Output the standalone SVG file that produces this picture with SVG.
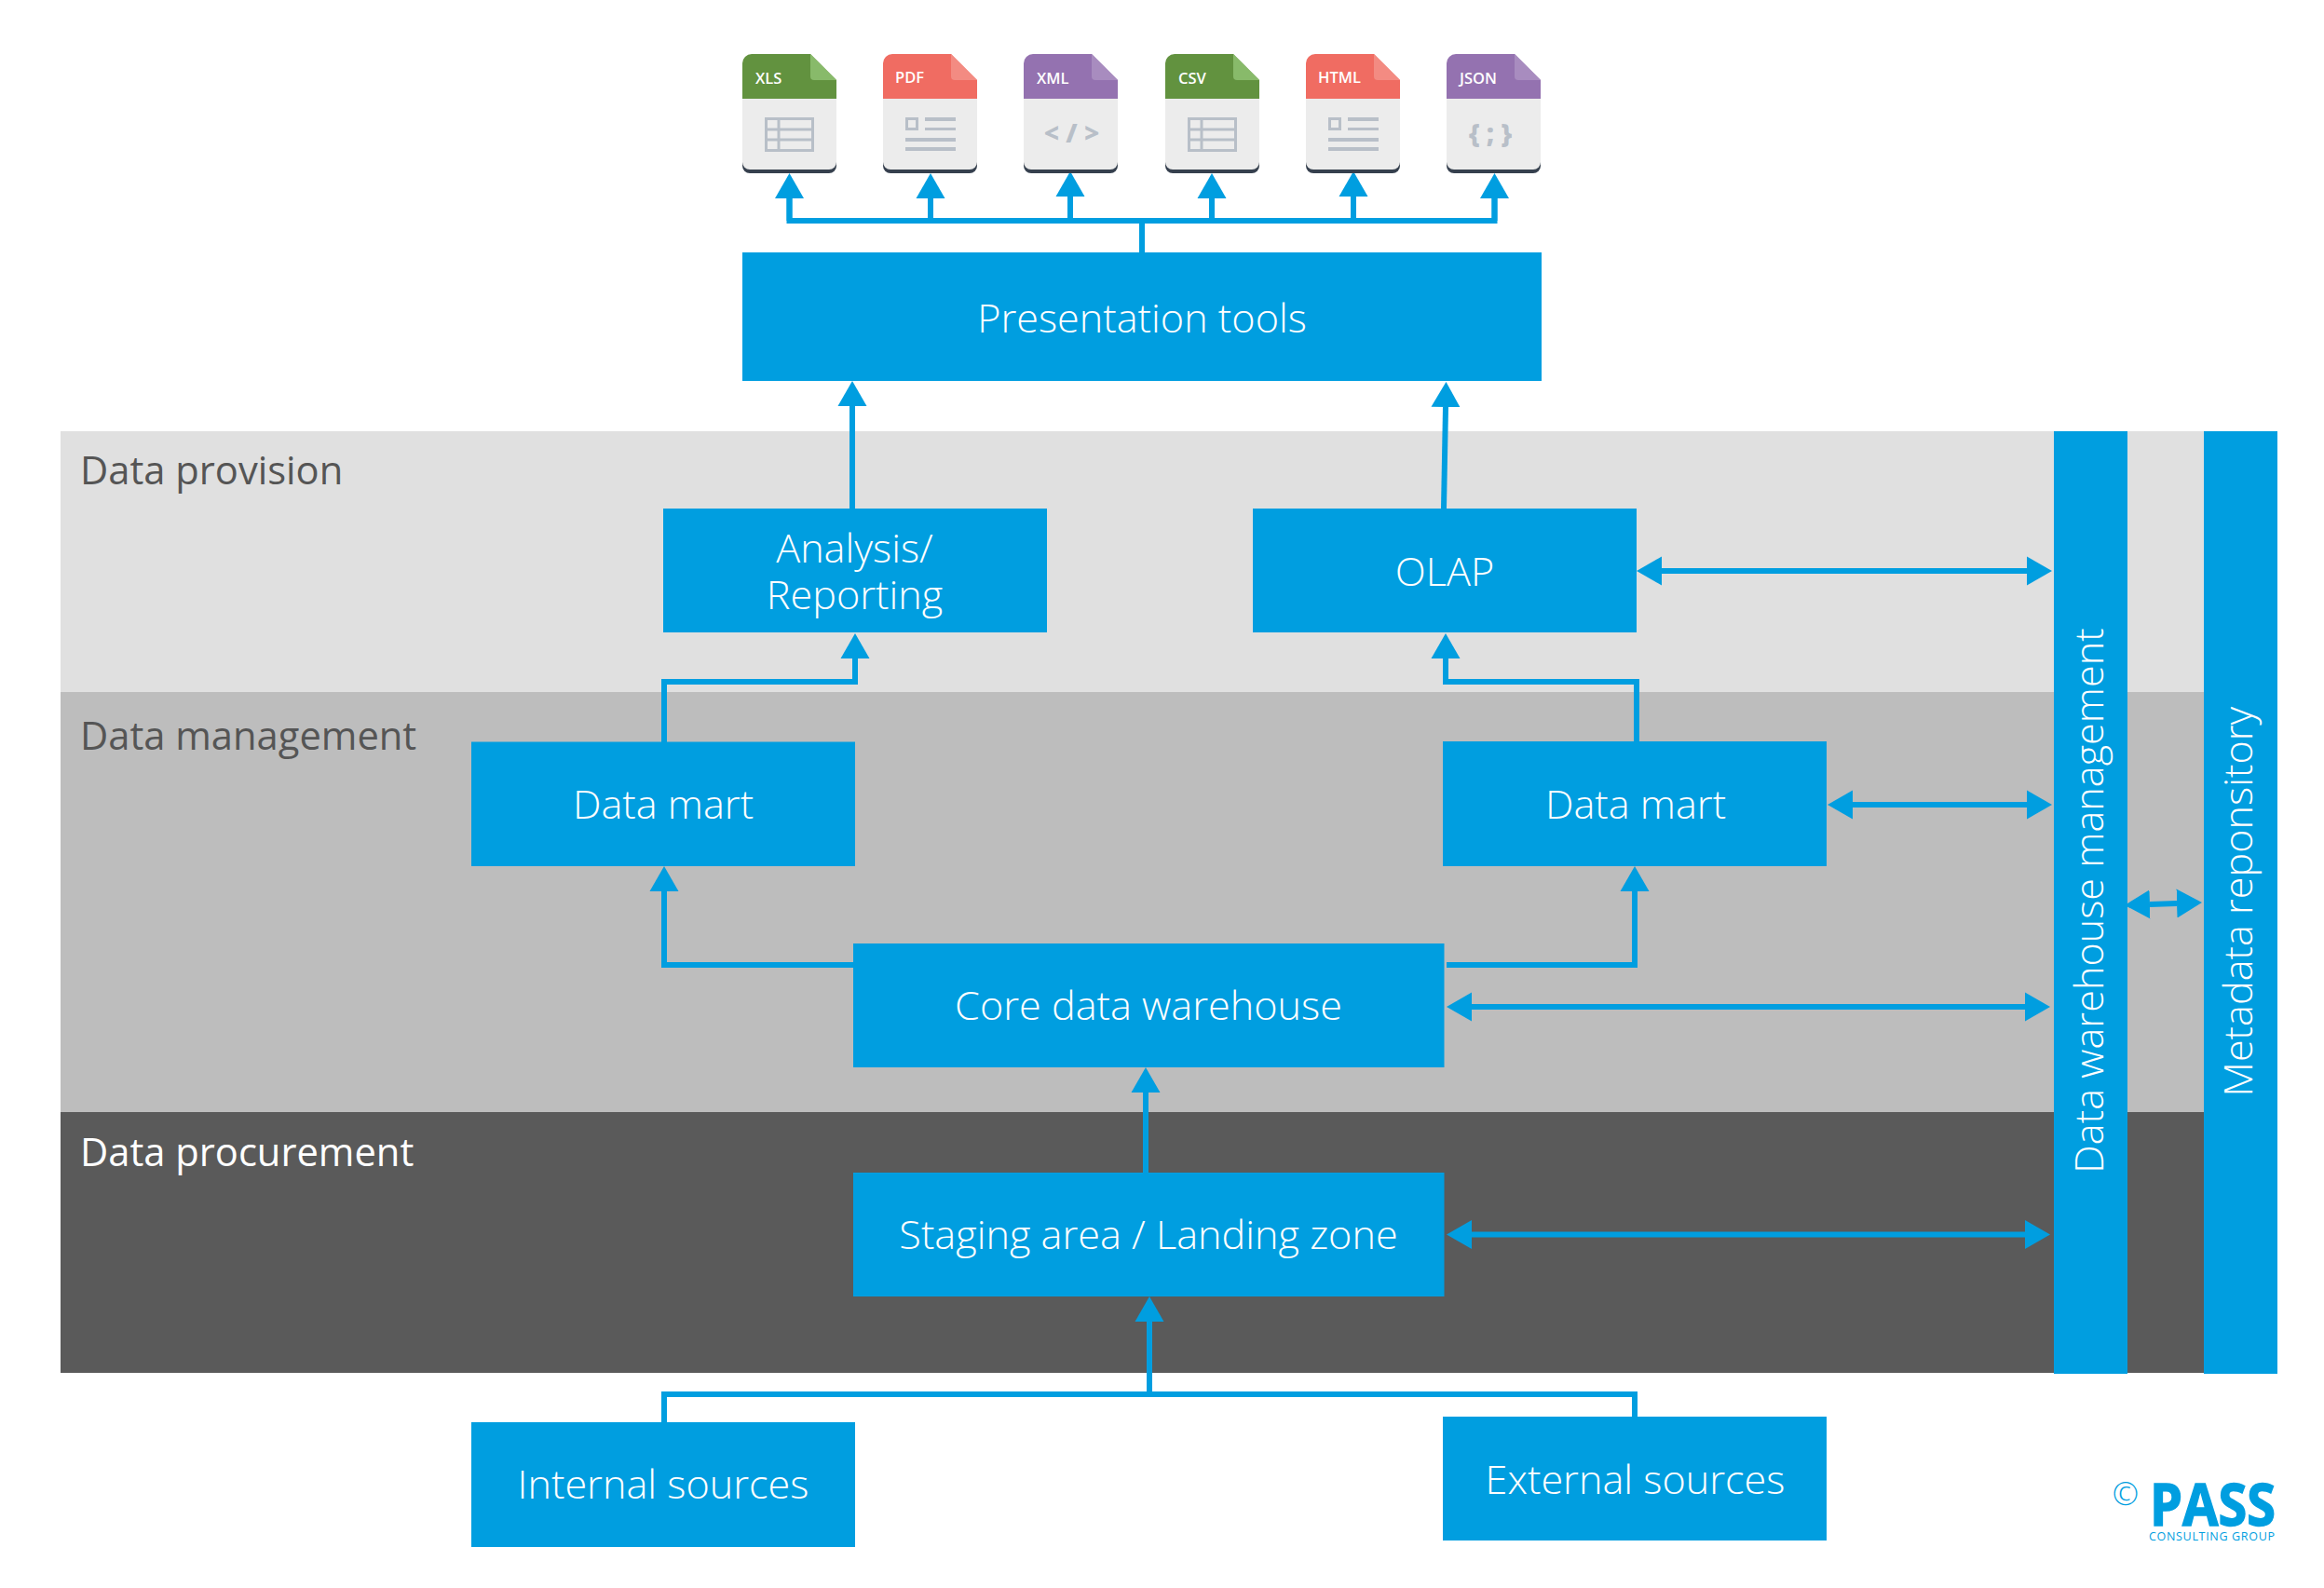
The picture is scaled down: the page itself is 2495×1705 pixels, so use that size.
<svg xmlns="http://www.w3.org/2000/svg" width="2495" height="1705" viewBox="0 0 2495 1705">
<style>
text{font-family:"Open Sans","Noto Sans","Liberation Sans",sans-serif}
.box{fill:#009EE0}
.lbl{fill:#fff;font-size:43.200px;text-anchor:middle;font-weight:300}
.band{font-size:41.700px;fill:#555}
.cn{fill:none;stroke:#009EE0;stroke-width:6}
.a{marker-end:url(#ah)}
.b{marker-start:url(#ah);marker-end:url(#ah)}
.hd{fill:#fff;font-size:16.500px;font-weight:600}
.gl{fill:none;stroke:#B8BFC8;stroke-width:3}
.gf{fill:#B8BFC8}
.sym{fill:#B8BFC8;font-size:28px;font-weight:800;text-anchor:middle}
.logo{fill:#009EE0}
</style>
<defs>
<marker id="ah" markerUnits="userSpaceOnUse" markerWidth="28" markerHeight="32" viewBox="0 0 28 32" refX="0" refY="16" orient="auto-start-reverse"><path d="M0 .5L27 16L0 31.500Z" fill="#009EE0"/></marker>
<g id="base"><path d="M0 48H101V120a8 8 0 0 1-8 8H8a8 8 0 0 1-8-8Z" fill="#36404E"/><path d="M0 48H101V116a8 8 0 0 1-8 8H8a8 8 0 0 1-8-8Z" fill="#ECECEC"/></g>
<path id="head" d="M0 48V10a10 10 0 0 1 10-10H73L101 28V48Z"/>
<path id="fold" d="M73 0L101 28H77a4 4 0 0 1-4-4Z"/>
<g id="tbl" class="gl"><rect x="25.500" y="69.500" width="50" height="34"/><path d="M25 81H76M25 92H76M39 69V104"/></g>
<g id="doc"><rect x="25.500" y="69.500" width="11" height="11" class="gl"/><path class="gf" d="M45 68H78V72H45ZM45 79H78V82H45ZM24 90H78V94H24ZM24 100H78V104H24Z"/></g>
</defs>
<rect width="2495" height="1705" fill="#fff"/>
<g id="bands">
<rect x="65" y="463" width="2301" height="280" fill="#E0E0E0"/>
<rect x="65" y="743" width="2301" height="451" fill="#BDBDBD"/>
<rect x="65" y="1194" width="2301" height="280" fill="#5A5A5A"/>
<text class="band" x="86" y="520">Data provision</text>
<text class="band" x="86" y="805">Data management</text>
<text class="band" x="86" y="1252" style="fill:#fff">Data procurement</text>
</g>
<g id="connectors">
<path class="cn" d="M1226 271V237"/>
<path class="cn" d="M847.500 212V237H1604.500V212"/>
<path class="cn a" d="M847.500 237V213"/><path class="cn a" d="M1604.500 237V213"/>
<path class="cn a" d="M999 237V213"/><path class="cn a" d="M1149 237V211"/><path class="cn a" d="M1301 237V213"/><path class="cn a" d="M1453 237V211"/>
<path class="cn a" d="M915 546V436"/>
<path class="cn a" d="M1550 546L1552 437"/>
<path class="cn a" d="M713 797V732H918V707"/>
<path class="cn a" d="M1757 797V732H1552V707"/>
<path class="cn b" d="M1784 613H2176"/>
<path class="cn b" d="M1989 864H2176"/>
<path class="cn a" d="M916 1036H713V957"/>
<path class="cn a" d="M1553 1036H1755V957"/>
<path class="cn b" d="M1580 1081H2174"/>
<path class="cn b" d="M1580 1325.500H2174"/>
<path class="cn b" d="M2308 971L2337 970"/>
<path class="cn a" d="M1230 1259V1173"/>
<path class="cn" d="M713 1527V1497H1755V1521"/>
<path class="cn a" d="M1234 1497V1419"/>
</g>
<g id="file-xls" transform="translate(797 58)"><use href="#base"/><use href="#head" fill="#62923F"/><use href="#fold" fill="#88BA6A"/><use href="#tbl"/><text class="hd" x="14" y="32">XLS</text></g>
<g id="file-pdf" transform="translate(948 58)"><use href="#base"/><use href="#head" fill="#F06C62"/><use href="#fold" fill="#F38B82"/><use href="#doc"/><text class="hd" x="13" y="31">PDF</text></g>
<g id="file-xml" transform="translate(1099 58)"><use href="#base"/><use href="#head" fill="#9472B0"/><use href="#fold" fill="#A88CBF"/><text class="hd" x="14" y="32">XML</text><text class="sym" x="51.500" y="95">&lt; / &gt;</text></g>
<g id="file-csv" transform="translate(1251 58)"><use href="#base"/><use href="#head" fill="#62923F"/><use href="#fold" fill="#88BA6A"/><use href="#tbl"/><text class="hd" x="14" y="32">CSV</text></g>
<g id="file-html" transform="translate(1402 58)"><use href="#base"/><use href="#head" fill="#F06C62"/><use href="#fold" fill="#F38B82"/><use href="#doc"/><text class="hd" x="13" y="31">HTML</text></g>
<g id="file-json" transform="translate(1553 58)"><use href="#base"/><use href="#head" fill="#9472B0"/><use href="#fold" fill="#A88CBF"/><text class="hd" x="14" y="32">JSON</text><text class="sym" x="47" y="95">{ ; }</text></g>
<g id="presentation"><rect class="box" x="797" y="271" width="858" height="138"/><text class="lbl" x="1226" y="357">Presentation tools</text></g>
<g id="analysis"><rect class="box" x="712" y="546" width="412" height="133"/><text class="lbl" x="917.500" y="604">Analysis/</text><text class="lbl" x="917.500" y="654">Reporting</text></g>
<g id="olap"><rect class="box" x="1345" y="546" width="412" height="133"/><text class="lbl" x="1551" y="629">OLAP</text></g>
<g id="mart-left"><rect class="box" x="506" y="796.500" width="412" height="133.500"/><text class="lbl" x="712" y="879">Data mart</text></g>
<g id="mart-right"><rect class="box" x="1549" y="796" width="412" height="134"/><text class="lbl" x="1756" y="879">Data mart</text></g>
<g id="core"><rect class="box" x="916" y="1013" width="634.500" height="133"/><text class="lbl" x="1233" y="1095">Core data warehouse</text></g>
<g id="staging"><rect class="box" x="916" y="1259" width="634.500" height="133"/><text class="lbl" x="1233" y="1341">Staging area / Landing zone</text></g>
<g id="internal"><rect class="box" x="506" y="1527" width="412" height="134"/><text class="lbl" x="712" y="1609">Internal sources</text></g>
<g id="external"><rect class="box" x="1549" y="1521" width="412" height="133"/><text class="lbl" x="1755.500" y="1604">External sources</text></g>
<g id="dwh-management"><rect class="box" x="2205" y="463" width="79" height="1012"/><text class="lbl" transform="translate(2258 967) rotate(-90)">Data warehouse management</text></g>
<g id="metadata"><rect class="box" x="2366" y="463" width="79" height="1012"/><text class="lbl" transform="translate(2418 968) rotate(-90)">Metadata reponsitory</text></g>
<g id="logo">
<text class="logo" x="2282" y="1616" font-size="34" text-anchor="middle" style="font-weight:300">©</text>
<text class="logo" x="2308" y="1638" font-size="63" font-weight="700" stroke="#009EE0" stroke-width="1.500" textLength="135" lengthAdjust="spacingAndGlyphs">PASS</text>
<text class="logo" x="2307" y="1654" font-size="12.500" textLength="135">CONSULTING GROUP</text>
</g>
</svg>
